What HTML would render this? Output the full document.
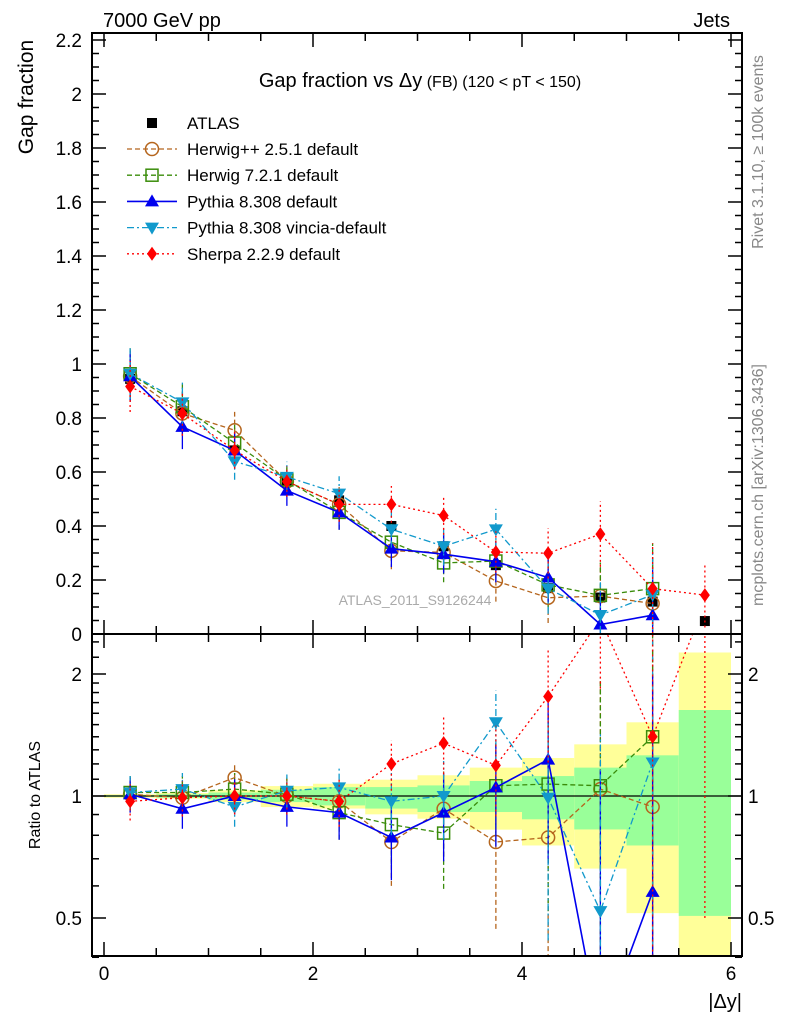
<!DOCTYPE html>
<html><head><meta charset="utf-8"><style>
html,body{margin:0;padding:0;background:#fff;width:786px;height:1024px;overflow:hidden;}
svg{display:block;font-family:"Liberation Sans",sans-serif;}
</style></head><body>
<svg id="chart" width="786" height="1024" xmlns="http://www.w3.org/2000/svg">
<defs>
<clipPath id="cm"><rect x="92" y="33" width="650" height="601"/></clipPath>
<clipPath id="cr"><rect x="92" y="634" width="650" height="322"/></clipPath>
</defs>
<g id="bands" clip-path="url(#cr)"></g>
<g id="ticks"></g>
<line x1="92" y1="796" x2="742" y2="796" stroke="#000" stroke-width="1.2"/>
<g id="series-main" clip-path="url(#cm)"></g>
<g id="series-ratio" clip-path="url(#cr)"></g>
<rect x="92" y="33" width="650" height="601" fill="none" stroke="#000" stroke-width="2"/>
<rect x="92" y="634" width="650" height="322" fill="none" stroke="#000" stroke-width="2"/>
<text x="103" y="27" font-size="20">7000 GeV pp</text>
<text x="730" y="27" font-size="20" text-anchor="end">Jets</text>
<text x="420" y="87" font-size="20" text-anchor="middle">Gap fraction vs Δy<tspan font-size="16"> (FB)</tspan><tspan font-size="16"> (120 &lt; pT &lt; 150)</tspan></text>
<text transform="translate(33,97) rotate(-90)" font-size="21" text-anchor="middle">Gap fraction</text>
<text transform="translate(40,795) rotate(-90)" font-size="16" text-anchor="middle">Ratio to ATLAS</text>
<text x="742" y="1008" font-size="20" text-anchor="end">|Δy|</text>
<text transform="translate(763,152) rotate(-90)" font-size="16" fill="#888" text-anchor="middle">Rivet 3.1.10, ≥ 100k events</text>
<text transform="translate(763,485) rotate(-90)" font-size="16" fill="#888" text-anchor="middle">mcplots.cern.ch [arXiv:1306.3436]</text>
<text x="415" y="605" font-size="14" fill="#aaa" text-anchor="middle">ATLAS_2011_S9126244</text>
<g id="legend"></g>
</svg>
<script>
const binCenters=[0.25,0.75,1.25,1.75,2.25,2.75,3.25,3.75,4.25,4.75,5.25,5.75];
const atlasValues=[0.945,0.825,0.68,0.565,0.495,0.40,0.325,0.255,0.17,0.135,0.12,0.048];
const bandYellowUp=[1.01,1.017,1.033,1.058,1.072,1.097,1.125,1.175,1.241,1.341,1.52,2.26];
const bandYellowDn=[0.99,0.985,0.966,0.939,0.931,0.901,0.879,0.826,0.755,0.662,0.514,0.30];
const bandGreenUp=[1.005,1.01,1.02,1.036,1.052,1.052,1.062,1.089,1.12,1.175,1.26,1.63];
const bandGreenDn=[0.995,0.99,0.98,0.966,0.948,0.931,0.913,0.913,0.876,0.827,0.755,0.506];
const mcRelErr=[0.1,0.1,0.1,0.1,0.13,0.17,0.22,0.3,0.55,0.9,1.4,2.5];
const herwigppRatio=[1.01,0.99,1.11,1.0,0.97,0.77,0.93,0.77,0.79,1.04,0.94];
const herwig7Ratio=[1.02,1.02,1.04,1.01,0.91,0.85,0.81,1.06,1.07,1.06,1.40];
const pythiaRatio=[1.01,0.93,1.0,0.94,0.91,0.79,0.91,1.05,1.23,0.26,0.58];
const vinciaRatio=[1.02,1.04,0.94,1.03,1.05,0.97,1.0,1.52,0.99,0.52,1.21];
const sherpaRatio=[0.97,0.99,1.0,1.0,0.97,1.20,1.35,1.19,1.76,2.74,1.40,3.0];
const xTicks=[0,2,4,6];
const yTicks=[0,0.2,0.4,0.6,0.8,1,1.2,1.4,1.6,1.8,2,2.2];
const yTickLabels=["0","0.2","0.4","0.6","0.8","1","1.2","1.4","1.6","1.8","2","2.2"];
const rTicks=[0.5,1,2];
const rTickLabels=["0.5","1","2"];

const NS="http://www.w3.org/2000/svg";
const X=v=>104+v*104.5;
const Y=v=>634-v*270;
const R=v=>796-Math.log2(Math.max(v,0.01))*122;
function mk(tag,attrs,parent){const e=document.createElementNS(NS,tag);for(const k in attrs)e.setAttribute(k,attrs[k]);parent.appendChild(e);return e;}

const bands=document.getElementById('bands');
binCenters.forEach((c,i)=>{
  const x0=X(c-0.25),x1=X(c+0.25);
  const y=mk('rect',{x:x0,y:R(bandYellowUp[i]),width:x1-x0,height:R(bandYellowDn[i])-R(bandYellowUp[i]),fill:'#ffff99'},bands);
  
  
  const g=mk('rect',{x:x0,y:R(bandGreenUp[i]),width:x1-x0,height:R(bandGreenDn[i])-R(bandGreenUp[i]),fill:'#99ff99'},bands);
  
  
});

const tk=document.getElementById('ticks');
for(let v=0;v<=2.2001;v+=0.05){
  const major=Math.abs(v/0.2-Math.round(v/0.2))<1e-6;const L=major?14:7;
  mk('line',{x1:92,y1:Y(v),x2:92+L,y2:Y(v),stroke:'#000','stroke-width':1.5},tk);
  mk('line',{x1:742,y1:Y(v),x2:742-L,y2:Y(v),stroke:'#000','stroke-width':1.5},tk);
}
yTicks.forEach((v,i)=>{const t=mk('text',{x:82,y:Y(v)+7,'font-size':19,'text-anchor':'end'},tk);t.textContent=yTickLabels[i];

});
const rMinor=[0.4,0.6,0.7,0.8,0.9,1.1,1.2,1.3,1.4,1.5,1.6,1.7,1.8,1.9,2.2,2.4];
rMinor.forEach(v=>{mk('line',{x1:92,y1:R(v),x2:99,y2:R(v),stroke:'#000','stroke-width':1.5},tk);mk('line',{x1:742,y1:R(v),x2:735,y2:R(v),stroke:'#000','stroke-width':1.5},tk);});
rTicks.forEach((v,i)=>{
  mk('line',{x1:92,y1:R(v),x2:106,y2:R(v),stroke:'#000','stroke-width':1.5},tk);
  mk('line',{x1:742,y1:R(v),x2:728,y2:R(v),stroke:'#000','stroke-width':1.5},tk);
  const t=mk('text',{x:82,y:R(v)+7,'font-size':19,'text-anchor':'end'},tk);t.textContent=rTickLabels[i];
  
  
  const t2=mk('text',{x:748,y:R(v)+7,'font-size':19},tk);t2.textContent=rTickLabels[i];
  
  
});
for(let v=0;v<=6.001;v+=0.5){
  const major=Math.abs(v-Math.round(v/2)*2)<1e-6;const L=major?14:8;
  [634,956].forEach(b=>mk('line',{x1:X(v),y1:b,x2:X(v),y2:b-L,stroke:'#000','stroke-width':1.5},tk));
  mk('line',{x1:X(v),y1:634,x2:X(v),y2:634+L,stroke:'#000','stroke-width':1.5},tk);
  mk('line',{x1:X(v),y1:33,x2:X(v),y2:33+L,stroke:'#000','stroke-width':1.5},tk);
}
xTicks.forEach(v=>{const t=mk('text',{x:X(v),y:980,'font-size':19,'text-anchor':'middle'},tk);t.textContent=v;

});

function marker(type,x,y,color,p){
  let e;
  if(type==='square')e=mk('rect',{x:x-5,y:y-5,width:10,height:10,fill:'#000'},p);
  else if(type==='osquare')e=mk('rect',{x:x-6,y:y-6,width:12,height:12,fill:'none',stroke:color,'stroke-width':1.5},p);
  else if(type==='circle')e=mk('circle',{cx:x,cy:y,r:6.5,fill:'none',stroke:color,'stroke-width':1.5},p);
  else if(type==='tri')e=mk('path',{d:`M${x} ${y-7}L${x+7} ${y+5}L${x-7} ${y+5}Z`,fill:color},p);
  else if(type==='dtri')e=mk('path',{d:`M${x} ${y+7}L${x+7} ${y-5}L${x-7} ${y-5}Z`,fill:color},p);
  else e=mk('path',{d:`M${x} ${y-7}L${x+5} ${y}L${x} ${y+7}L${x-5} ${y}Z`,fill:color},p);
  return e;
}
const series=[
 {name:'Herwig++ 2.5.1 default',ratio:herwigppRatio,color:'#b5651d',dash:'5,3',m:'circle',w:1.3},
 {name:'Herwig 7.2.1 default',ratio:herwig7Ratio,color:'#3a8c0a',dash:'5,3',m:'osquare',w:1.3},
 {name:'Pythia 8.308 default',ratio:pythiaRatio,color:'#0000ee',dash:'',m:'tri',w:1.6},
 {name:'Pythia 8.308 vincia-default',ratio:vinciaRatio,color:'#1199cc',dash:'7,3,2,3',m:'dtri',w:1.3},
 {name:'Sherpa 2.2.9 default',ratio:sherpaRatio,color:'#ff0000',dash:'2,3',m:'diamond',w:1.3},
];
const gm=document.getElementById('series-main'),gr=document.getElementById('series-ratio');
binCenters.forEach((c,i)=>{
  const m=marker('square',X(c),Y(atlasValues[i]),'#000',gm);
  
  
});
series.forEach((s,si)=>{
  const gM=mk('g',{},gm);
  const gR=mk('g',{},gr);
  const ptsM=[],ptsR=[];
  s.ratio.forEach((r,i)=>{
    const c=binCenters[i],v=r*atlasValues[i],e=mcRelErr[i]*atlasValues[i];
    ptsM.push(X(c)+','+Y(v));ptsR.push(X(c)+','+R(r));
    mk('line',{x1:X(c),y1:Y(v-e),x2:X(c),y2:Y(v+e),stroke:s.color,'stroke-width':1.3,'stroke-dasharray':s.dash},gM);
    mk('line',{x1:X(c),y1:R(r-mcRelErr[i]),x2:X(c),y2:R(r+mcRelErr[i]),stroke:s.color,'stroke-width':1.3,'stroke-dasharray':s.dash},gR);
  });
  mk('polyline',{points:ptsM.join(' '),fill:'none',stroke:s.color,'stroke-width':s.w,'stroke-dasharray':s.dash},gM);
  mk('polyline',{points:ptsR.join(' '),fill:'none',stroke:s.color,'stroke-width':s.w,'stroke-dasharray':s.dash},gR);
  s.ratio.forEach((r,i)=>{
    const c=binCenters[i];
    const a=marker(s.m,X(c),Y(r*atlasValues[i]),s.color,gM);
    
    
    const b=marker(s.m,X(c),R(r),s.color,gR);
    
    
  });
});
const lg=document.getElementById('legend');
const la=marker('square',152,123,'#000',lg);


const lt=mk('text',{x:187,y:129,'font-size':17},lg);lt.textContent='ATLAS';


series.forEach((s,i)=>{
  const y=149+i*26.2;
  mk('line',{x1:127,y1:y,x2:177,y2:y,stroke:s.color,'stroke-width':s.w,'stroke-dasharray':s.dash},lg);
  const mm=marker(s.m,152,y,s.color,lg);
  
  
  const t=mk('text',{x:187,y:y+6,'font-size':17},lg);t.textContent=s.name;
  
  
});
</script>
</body></html>
